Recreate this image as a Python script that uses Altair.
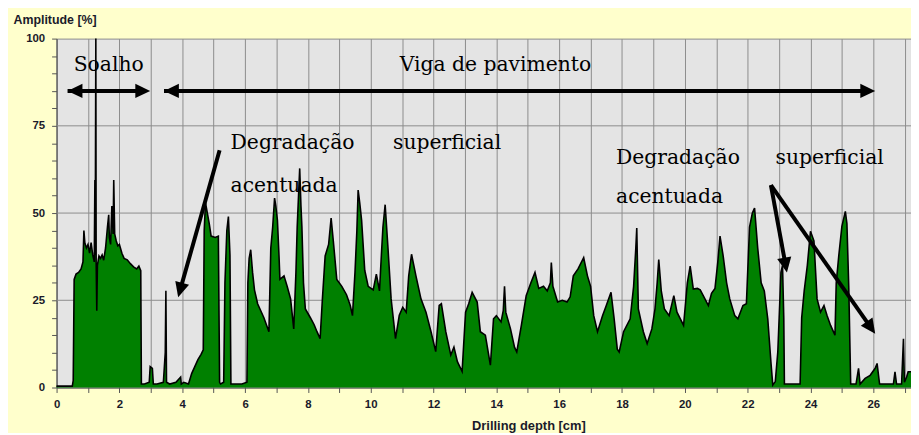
import math
import altair as alt
import pandas as pd

# ---- profile data ----
depth_cm = [
    0.0, 0.50, 0.53, 0.56, 0.62, 0.70, 0.78, 0.84, 0.87, 0.90, 0.95, 1.00, 1.05, 1.10, 1.15, 1.20,
    1.22, 1.23, 1.25, 1.26, 1.28, 1.30, 1.35, 1.40, 1.45, 1.50, 1.56, 1.62, 1.66, 1.68, 1.72, 1.76,
    1.80, 1.82, 1.85, 1.90, 1.95, 2.00, 2.08, 2.15, 2.25, 2.35, 2.45, 2.55, 2.62, 2.68, 2.70,
    2.80, 2.95, 2.98, 3.05, 3.08, 3.20, 3.40, 3.46, 3.48, 3.50, 3.60, 3.80, 3.95, 3.97, 4.05, 4.20,
    4.30, 4.40, 4.50, 4.60, 4.67, 4.70, 4.74, 4.80, 4.86, 4.92, 5.05, 5.15, 5.19, 5.22, 5.32, 5.36,
    5.42, 5.47, 5.52, 5.55, 5.70, 5.90, 6.06, 6.09, 6.13, 6.18, 6.24, 6.30, 6.40, 6.50, 6.60, 6.70,
    6.76, 6.82, 6.88, 6.94, 6.98, 7.03, 7.08, 7.11, 7.24, 7.34, 7.45, 7.55, 7.62, 7.66, 7.74, 7.78,
    7.81, 7.86, 7.92, 8.08, 8.20, 8.29, 8.39, 8.46, 8.55, 8.66, 8.74, 8.81, 8.92, 9.08, 9.23, 9.35,
    9.42, 9.50, 9.56, 9.60, 9.65, 9.71, 9.81, 9.92, 10.08, 10.18, 10.28, 10.34, 10.39, 10.46, 10.55,
    10.65, 10.79, 10.91, 11.02, 11.13, 11.21, 11.30, 11.44, 11.60, 11.76, 11.92, 12.07, 12.18, 12.25,
    12.39, 12.55, 12.65, 12.76, 12.91, 13.02, 13.12, 13.23, 13.39, 13.49, 13.65, 13.81, 13.91, 14.00,
    14.15, 14.22, 14.26, 14.30, 14.45, 14.58, 14.65, 14.80, 14.95, 15.10, 15.23, 15.35, 15.50, 15.62,
    15.72, 15.75, 15.80, 15.95, 16.10, 16.25, 16.35, 16.45, 16.60, 16.78, 16.90, 17.00, 17.10, 17.22,
    17.38, 17.50, 17.65, 17.75, 17.85, 17.91, 18.05, 18.26, 18.37, 18.44, 18.47, 18.52, 18.68, 18.80,
    18.95, 19.05, 19.12, 19.17, 19.25, 19.35, 19.50, 19.65, 19.75, 19.96, 20.08, 20.17, 20.27, 20.40,
    20.49, 20.59, 20.75, 20.85, 20.96, 21.05, 21.12, 21.22, 21.33, 21.43, 21.59, 21.69, 21.85, 21.96,
    22.06, 22.15, 22.22, 22.32, 22.43, 22.53, 22.64, 22.74, 22.80, 22.88, 22.96, 23.06, 23.11, 23.15,
    23.17, 23.40, 23.67, 23.72, 23.80, 23.90, 24.00, 24.11, 24.21, 24.32, 24.43, 24.53, 24.64, 24.78,
    24.82, 24.90, 25.00, 25.11, 25.16, 25.22, 25.26, 25.28, 25.45, 25.53, 25.58, 25.74, 25.90, 26.06,
    26.12, 26.20, 26.40, 26.64, 26.69, 26.74, 26.90, 26.96, 26.99, 27.06, 27.11, 27.20,
]
amplitude_pct = [
    0.4, 0.4, 2.0, 31.0, 32.5, 33.0, 34.0, 36.0, 45.0, 41.5, 40.0, 41.0, 38.5, 41.5, 38.0, 36.0,
    59.5, 38.0, 100.0, 36.0, 22.0, 35.0, 37.7, 37.0, 38.0, 36.5, 40.0, 46.0, 49.5, 43.0, 41.0, 52.0,
    44.0, 59.5, 44.0, 42.0, 40.6, 41.0, 38.5, 37.0, 36.6, 35.5, 34.6, 34.0, 34.8, 33.5, 1.0,
    1.0, 1.5, 6.0, 5.5, 1.0, 1.0, 1.5, 10.0, 27.7, 1.5, 1.0, 1.5, 3.0, 1.0, 1.5, 1.0,
    4.0, 6.0, 8.0, 9.5, 10.8, 45.0, 53.0, 50.0, 47.0, 43.4, 43.0, 43.4, 1.5, 1.0, 1.5, 30.0,
    45.0, 49.0, 38.0, 1.0, 1.0, 1.0, 1.5, 30.0, 37.0, 39.5, 33.0, 28.0, 24.0, 22.0, 20.0, 17.5,
    16.0, 40.0, 46.0, 54.3, 52.0, 48.0, 38.0, 31.0, 32.0, 29.0, 25.4, 16.8, 33.0, 46.0, 62.8, 52.0,
    46.0, 30.0, 22.5, 20.0, 18.0, 16.0, 14.0, 25.0, 37.7, 41.0, 48.6, 42.0, 31.0, 29.0, 26.6, 23.5,
    20.6, 33.0, 45.0, 56.6, 53.0, 48.0, 33.6, 29.0, 28.0, 32.5, 27.7, 38.0, 46.0, 52.4, 40.0,
    25.4, 14.0, 20.7, 23.0, 21.6, 32.0, 38.2, 32.0, 25.4, 21.6, 16.0, 10.3, 23.5, 24.0,
    16.0, 9.3, 11.6, 7.4, 4.6, 21.6, 24.0, 27.3, 24.5, 16.0, 15.0, 6.4, 19.7, 20.6,
    18.8, 22.0, 29.0, 21.6, 16.8, 11.5, 10.2, 18.0, 26.3, 30.0, 33.0, 28.4, 29.0, 27.7,
    30.0, 35.8, 29.0, 24.5, 25.0, 24.5, 26.0, 32.0, 34.0, 37.2, 32.0, 29.0, 20.6, 16.0,
    20.6, 23.5, 27.3, 19.7, 11.0, 10.2, 16.0, 19.7, 29.0, 40.0, 45.7, 22.5, 16.0, 12.6,
    16.8, 22.5, 30.0, 36.7, 27.7, 22.5, 20.6, 26.3, 21.6, 17.8, 30.0, 34.8, 28.2, 28.4,
    28.0, 26.3, 23.5, 27.0, 28.4, 36.0, 43.4, 37.7, 30.0, 25.4, 20.6, 19.7, 23.5, 24.0,
    46.0, 50.0, 51.4, 40.0, 30.0, 27.7, 19.7, 7.4, 0.7, 1.7, 10.2, 33.0, 35.0, 20.0,
    1.0, 1.0, 1.0, 20.0, 27.7, 35.0, 44.8, 42.0, 25.4, 21.6, 23.5, 20.6, 17.8, 15.0,
    30.0, 37.7, 46.2, 50.5, 47.0, 28.4, 10.0, 1.0, 1.0, 5.5, 1.0, 2.6, 3.5, 5.5,
    6.9, 1.0, 1.0, 1.0, 4.5, 1.0, 1.0, 14.0, 1.5, 3.0, 4.5, 4.5,
]

# ---- annotations ----
label_text = ["Soalho", "Viga de pavimento", "Degradação", "superficial", "acentuada",
              "Degradação", "superficial", "acentuada"]
label_x = [1.66, 13.97, 5.54, 10.71, 5.54, 17.81, 22.89, 17.81]
label_y = [92.4, 92.4, 70.0, 70.0, 57.8, 65.7, 65.7, 54.6]
label_align = ["center", "center", "left", "left", "left", "left", "left", "left"]

# arrows: start (x0, y0) -> tip (x1, y1)
arrow_x0 = [2.60, 0.35, 25.70, 3.42, 5.19, 22.74, 22.74]
arrow_y0 = [85.0, 85.0, 85.0, 85.0, 68.0, 58.0, 58.0]
arrow_x1 = [0.35, 2.98, 3.42, 26.06, 3.87, 23.25, 26.06]
arrow_y1 = [85.0, 85.0, 85.0, 85.0, 25.9, 33.0, 15.4]

X_MAX = 27.2
W, H = 862, 352
KX, KY = W / X_MAX, H / 100.0

shafts, heads = [], []
for x0, y0, x1, y1 in zip(arrow_x0, arrow_y0, arrow_x1, arrow_y1):
    dx, dy = (x1 - x0) * KX, -(y1 - y0) * KY
    L = math.hypot(dx, dy)
    ux, uy = dx / L, dy / L
    ang = math.degrees(math.atan2(ux, -uy)) % 360
    ex = x1 - ux * 10 / KX
    ey = y1 + uy * 10 / KY
    shafts.append({"x": x0, "y": y0, "x2": ex, "y2": ey})
    heads.append({"x": x1, "y": y1, "ang": ang})

profile = pd.DataFrame({"depth": depth_cm, "amp": amplitude_pct})
labels = pd.DataFrame({"t": label_text, "x": label_x, "y": label_y, "a": label_align})
shaft_df = pd.DataFrame(shafts)
head_df = pd.DataFrame(heads)
grid_df = pd.DataFrame({"g": [25, 50, 75]})

xscale = alt.Scale(domain=[0, X_MAX], nice=False, zero=False)
yscale = alt.Scale(domain=[0, 100], nice=False)

TXT = "#1a1a2a"
x_axis = alt.Axis(
    values=list(range(0, 28)),
    labelExpr="datum.value % 2 == 0 ? datum.label : ''",
    labelOverlap=False, labelFlush=False,
    grid=True, gridColor="#8c8c8c", gridWidth=1,
    tickColor="#555555", tickSize=5, domainColor="#555555",
    labelFont="Liberation Sans", labelFontWeight="bold", labelFontSize=11.5,
    labelColor=TXT, labelPadding=6,
    title="Drilling depth [cm]", titleFont="Liberation Sans", titleFontWeight="bold",
    titleFontSize=13, titleColor=TXT, titleX=476, titleY=38,
    titleAlign="center", titleBaseline="middle",
)
y_axis = alt.Axis(
    values=list(range(0, 101, 5)),
    labelExpr="datum.value % 25 == 0 ? datum.label : ''",
    labelOverlap=False, labelFlush=False,
    grid=False, tickColor="#555555", tickSize=5, domainColor="#555555",
    labelFont="Liberation Sans", labelFontWeight="bold", labelFontSize=11.5,
    labelColor=TXT, labelPadding=7,
    title="Amplitude [%]", titleFont="Liberation Sans", titleFontWeight="bold",
    titleFontSize=12.5, titleColor=TXT, titleAngle=0, titleAlign="left",
    titleBaseline="middle", titleX=-44, titleY=-19,
)


def X(field):
    return alt.X(field, scale=xscale, axis=x_axis)


def Y(field):
    return alt.Y(field, scale=yscale, axis=y_axis)


grid_layer = alt.Chart(grid_df).mark_rule(color="#8c8c8c", strokeWidth=1).encode(
    x=alt.value(0), x2=alt.value(W), y=Y("g:Q"),
)

area = alt.Chart(profile).mark_area(
    color="#008000", opacity=1, fillOpacity=1, interpolate="linear",
    line={"color": "black", "strokeWidth": 1.6},
).encode(x=X("depth:Q"), y=Y("amp:Q"))

shaft_layer = alt.Chart(shaft_df).mark_rule(color="black", strokeWidth=4, strokeCap="butt").encode(
    x=X("x:Q"), y=Y("y:Q"), x2="x2:Q", y2="y2:Q",
)

head_layer = alt.Chart(head_df).mark_point(
    shape="M0,0L0.48,1L-0.48,1Z", filled=True, color="black", opacity=1, size=900,
    strokeWidth=0,
).encode(
    x=X("x:Q"), y=Y("y:Q"),
    angle=alt.Angle("ang:Q", scale=None),
)

text_layers = []
for al in ["center", "left"]:
    text_layers.append(
        alt.Chart(labels[labels["a"] == al]).mark_text(
            font="DejaVu Serif", fontSize=20.5, align=al, baseline="middle", color="black",
        ).encode(x=X("x:Q"), y=Y("y:Q"), text="t:N")
    )

chart = alt.layer(grid_layer, area, shaft_layer, head_layer, *text_layers).properties(
    width=W, height=H,
    autosize=alt.AutoSizeParams(type="none"),
    padding={"left": 49, "top": 29, "right": 0, "bottom": 44},
    background="#FFFFCC",
).configure_view(
    fill="#E4E4E4", stroke="#8c8c8c", strokeWidth=1,
)

chart.save("out.html", embed_options={"renderer": "svg", "actions": False})
